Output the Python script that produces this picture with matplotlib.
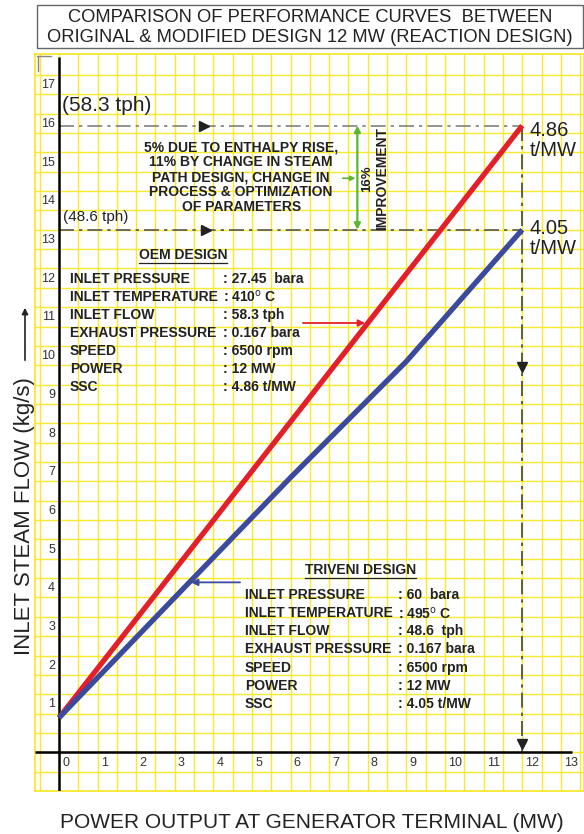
import matplotlib
matplotlib.use("Agg")
import matplotlib.pyplot as plt
from matplotlib.patches import Rectangle, FancyArrowPatch
import numpy as np

plt.rcParams['font.family'] = ['Liberation Sans', 'DejaVu Sans']

# ---------------- data ----------------
oem_power = [0, 12]
oem_flow = [0.89, 16.19]          # 58.3 tph
triveni_power = [0, 3, 6, 9, 12]
triveni_flow = [0.89, 4.0, 7.1, 10.1, 13.5]   # 48.6 tph
x_ticks = list(range(0, 14))
y_ticks = list(range(1, 18))

title_lines = ["COMPARISON OF PERFORMANCE CURVES  BETWEEN",
               "ORIGINAL & MODIFIED DESIGN 12 MW (REACTION DESIGN)"]
x_label = "POWER OUTPUT AT GENERATOR TERMINAL (MW)"
y_label = "INLET STEAM FLOW (kg/s)"
note_text = ("5% DUE TO ENTHALPY RISE,\n11% BY CHANGE IN STEAM\nPATH DESIGN, CHANGE IN\n"
             "PROCESS & OPTIMIZATION\nOF PARAMETERS")
param_names = ["INLET PRESSURE", "INLET TEMPERATURE", "INLET FLOW", "EXHAUST PRESSURE",
               "SPEED", "POWER", "SSC"]
oem_values = [": 27.45  bara", ": 410$^{\\rm o}$ C", ": 58.3 tph", ": 0.167 bara",
              ": 6500 rpm", ": 12 MW", ": 4.86 t/MW"]
triveni_values = [": 60  bara", ": 495$^{\\rm o}$ C", ": 48.6  tph", ": 0.167 bara",
                  ": 6500 rpm", ": 12 MW", ": 4.05 t/MW"]

# ---------------- figure ----------------
W, H = 584, 834
fig = plt.figure(figsize=(W / 100, H / 100), dpi=100)
ax = fig.add_axes([35 / W, 1 - 791 / H, 549 / W, 737 / H])
ax.set_xlim(-0.62, 13.6)
ax.set_ylim(-1.0, 18.04)
ax.set_xticks([])
ax.set_yticks([])
for s in ax.spines.values():
    s.set_color('#f5e61e')
    s.set_linewidth(1.2)

yellow = '#f8ea2a'
for gx in np.arange(-0.5, 13.6, 0.5):
    ax.axvline(gx, color=yellow, lw=1.0, zorder=0)
for gy in np.arange(-0.5, 18.0, 0.5):
    ax.axhline(gy, color=yellow, lw=1.0, zorder=0)

# axes lines
ax.plot([-0.62, 13.3], [0, 0], color='black', lw=1.8, zorder=3, solid_capstyle='butt')
ax.plot([0, 0], [-1.0, 17.95], color='black', lw=1.8, zorder=3, solid_capstyle='butt')
# small corner mark
ax.plot([-0.58, -0.2], [17.98, 17.98], color='#888888', lw=1.0)
ax.plot([-0.55, -0.55], [17.98, 17.6], color='#888888', lw=1.0)

# tick labels
for t in x_ticks:
    ax.text(t + 0.08, -0.12, str(t), ha='left', va='top', fontsize=9, color='#333333')
for t in y_ticks:
    ax.text(-0.1, t + 0.08, str(t), ha='right', va='bottom', fontsize=9, color='#333333')

# curves
ax.plot(oem_power, oem_flow, color='#e3202a', lw=3.8, zorder=5, solid_capstyle='butt')
ax.plot(triveni_power, triveni_flow, color='#3b4a9d', lw=3.8, zorder=5, solid_capstyle='butt')

# reference dash-dot lines
ax.plot([0, oem_power[-1]], [oem_flow[-1]] * 2, color='#808080', lw=1.2,
        ls=(0, (9, 3, 2, 3)), zorder=2)
ax.plot([0, triveni_power[-1]], [triveni_flow[-1]] * 2, color='#555555', lw=1.2,
        ls=(0, (9, 3, 2, 3)), zorder=2)
ax.plot([oem_power[-1]] * 2, [oem_flow[-1], 0], color='#444433', lw=1.2,
        ls=(0, (9, 3, 2, 3)), zorder=2)
ax.plot([3.75], [oem_flow[-1]], marker='>', color='#222222', ms=7, zorder=4)
ax.plot([3.8], [triveni_flow[-1]], marker='>', color='#222222', ms=7, zorder=4)
ax.plot([12], [9.95], marker='v', color='#222222', ms=7, zorder=4)
ax.plot([12], [0.22], marker='v', color='#222222', ms=7, zorder=4)

# green improvement bracket
ax.annotate('', xy=(7.73, oem_flow[-1]), xytext=(7.73, triveni_flow[-1]),
            arrowprops=dict(arrowstyle='<|-|>', color='#5cb531', lw=1.6,
                            mutation_scale=9, shrinkA=0, shrinkB=0))
ax.annotate('', xy=(7.68, 14.83), xytext=(7.35, 14.83),
            arrowprops=dict(arrowstyle='-|>', color='#5cb531', lw=1.2,
                            mutation_scale=7, shrinkA=0, shrinkB=0))
ax.text(7.98, 14.83, "16%", rotation=90, ha='center', va='center',
        fontsize=9.5, fontweight='bold', color='#222222')
ax.text(8.38, 14.83, "IMPROVEMENT", rotation=90, ha='center', va='center',
        fontsize=10, fontweight='bold', color='#222222')

ax.text(4.72, 14.86, note_text, ha='center', va='center', fontsize=10,
        fontweight='bold', color='#222222', linespacing=1.08)

ax.text(0.08, 16.7, "(58.3 tph)", ha='left', va='center', fontsize=15, color='#222222')
ax.text(0.1, 13.82, "(48.6 tph)", ha='left', va='center', fontsize=11, color='#222222')
ax.text(12.2, 15.8, "4.86\nt/MW", ha='left', va='center', fontsize=14.5, color='#222222',
        linespacing=1.05)
ax.text(12.2, 13.27, "4.05\nt/MW", ha='left', va='center', fontsize=14.5, color='#222222',
        linespacing=1.05)

# pointer arrows
ax.annotate('', xy=(7.93, 11.09), xytext=(6.32, 11.09),
            arrowprops=dict(arrowstyle='-|>', color='#e3202a', lw=1.3,
                            mutation_scale=10, shrinkA=0, shrinkB=0))
ax.annotate('', xy=(3.42, 4.39), xytext=(4.69, 4.39),
            arrowprops=dict(arrowstyle='-|>', color='#3b4a9d', lw=1.3,
                            mutation_scale=10, shrinkA=0, shrinkB=0))

# parameter blocks
FS = 10

def block(title, tx, ty, x0, x1, ys, values):
    t = ax.text(tx, ty, title, ha='center', va='center', fontsize=FS,
                fontweight='bold', color='#222222')
    for name, val, yy in zip(param_names, values, ys):
        ax.text(x0, yy, name, ha='left', va='center', fontsize=FS,
                fontweight='bold', color='#222222')
        ax.text(x1, yy, val, ha='left', va='center', fontsize=FS,
                fontweight='bold', color='#222222')
    return t

oem_rows = [12.22, 11.76, 11.29, 10.83, 10.36, 9.90, 9.43]
tri_rows = [4.06, 3.59, 3.13, 2.66, 2.17, 1.71, 1.24]
t1 = block("OEM DESIGN", 3.21, 12.84, 0.285, 4.25, oem_rows, oem_values)
t2 = block("TRIVENI DESIGN", 7.80, 4.70, 4.82, 8.78, tri_rows, triveni_values)

fig.canvas.draw()
inv = ax.transData.inverted()
for t in (t1, t2):
    bb = t.get_window_extent()
    (xa, ya), (xb, yb) = inv.transform([(bb.x0, bb.y0 - 1.0), (bb.x1, bb.y0 - 1.0)])
    ax.plot([xa, xb], [ya, ya], color='#222222', lw=0.9)

# axis titles
fig.text(25 / W, 1 - 516 / H, y_label, rotation=90, ha='center', va='center',
         fontsize=16, color='#222222')
fig.add_artist(FancyArrowPatch(
    (25 / W, 1 - 363 / H), (25 / W, 1 - 305 / H), transform=fig.transFigure,
    arrowstyle='-|>', mutation_scale=9, color='#222222', lw=1.2))
fig.text(312 / W, 1 - 822 / H, x_label, ha='center', va='center', fontsize=15,
         color='#222222')

# title box
fig.add_artist(Rectangle((37 / W, 1 - 48 / H), 546 / W, 43 / H, transform=fig.transFigure,
                         fill=False, edgecolor='#666666', lw=1.0))
fig.text(310 / W, 1 - 17 / H, title_lines[0], ha='center', va='center', fontsize=13.2,
         color='#222222')
fig.text(310 / W, 1 - 37 / H, title_lines[1], ha='center', va='center', fontsize=13.2,
         color='#222222')

fig.savefig("out.png", dpi=100)
